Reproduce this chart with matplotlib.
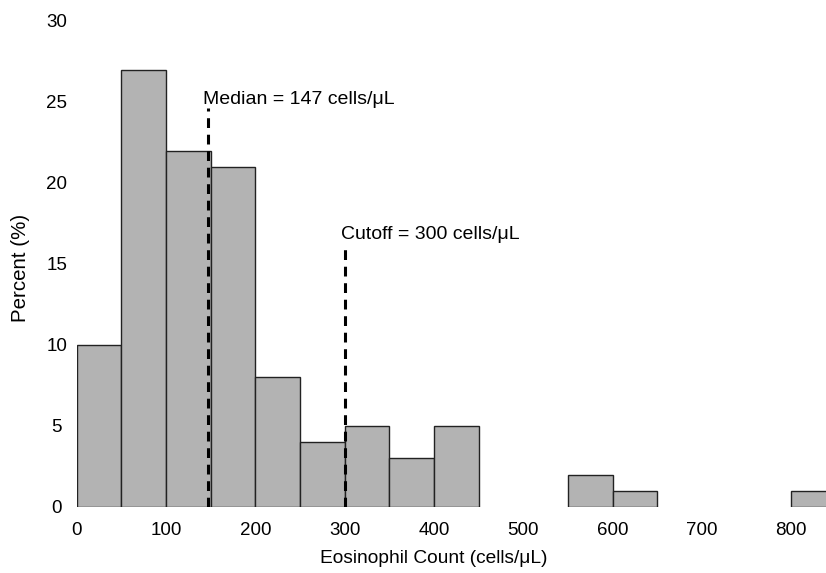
import matplotlib
matplotlib.use("Agg")
import matplotlib.pyplot as plt
import numpy as np

plt.rcParams['font.family'] = ['Liberation Sans', 'DejaVu Sans']

bin_edges = [0, 50, 100, 150, 200, 250, 300, 350, 400, 450, 500, 550, 600, 650, 700, 750, 800, 850]
percents = [10, 27, 22, 21, 8, 4, 5, 3, 5, 0, 0, 2, 1, 0, 0, 0, 1]
median_val = 147
cutoff_val = 300
x_ticks = [0, 100, 200, 300, 400, 500, 600, 700, 800]
y_ticks = [0, 5, 10, 15, 20, 25, 30]

fig = plt.figure(figsize=(8.26, 5.73), dpi=100)
ax = fig.add_axes([0.0929, 0.1152, 1 - 0.0929, 0.8482])

lefts = bin_edges[:-1]
widths = np.diff(bin_edges)
for l, w, p in zip(lefts, widths, percents):
    if p > 0:
        ax.bar(l, p, width=w, align='edge', color='#b3b3b3', edgecolor='#222222', linewidth=1.0)

ax.plot([median_val, median_val], [0, 24.6], color='black', linestyle=(0, (3.2, 2.2)), linewidth=2.2)
ax.plot([cutoff_val, cutoff_val], [0, 16.2], color='black', linestyle=(0, (3.2, 2.2)), linewidth=2.2)
ax.text(141.5, 24.85, 'Median = 147 cells/\u03bcL', fontsize=14, ha='left', va='baseline')
ax.text(296, 16.55, 'Cutoff = 300 cells/\u03bcL', fontsize=14, ha='left', va='baseline')

ax.set_xlim(0, 839)
ax.set_ylim(0, 30)
ax.set_xticks(x_ticks)
ax.set_yticks(y_ticks)
ax.tick_params(axis='x', length=0, labelsize=13.5, pad=10.5)
ax.tick_params(axis='y', length=0, labelsize=13.5, pad=14.4)
for lbl in ax.get_yticklabels():
    lbl.set_horizontalalignment('center')
for s in ax.spines.values():
    s.set_visible(False)

ax.set_xlabel('Eosinophil Count (cells/\u03bcL)', fontsize=13.8)
ax.set_ylabel('Percent (%)', fontsize=14.8)
ax.xaxis.set_label_coords(0.477, -0.088)
ax.yaxis.set_label_coords(-0.062, 0.492)

fig.savefig('out.png', dpi=100)
